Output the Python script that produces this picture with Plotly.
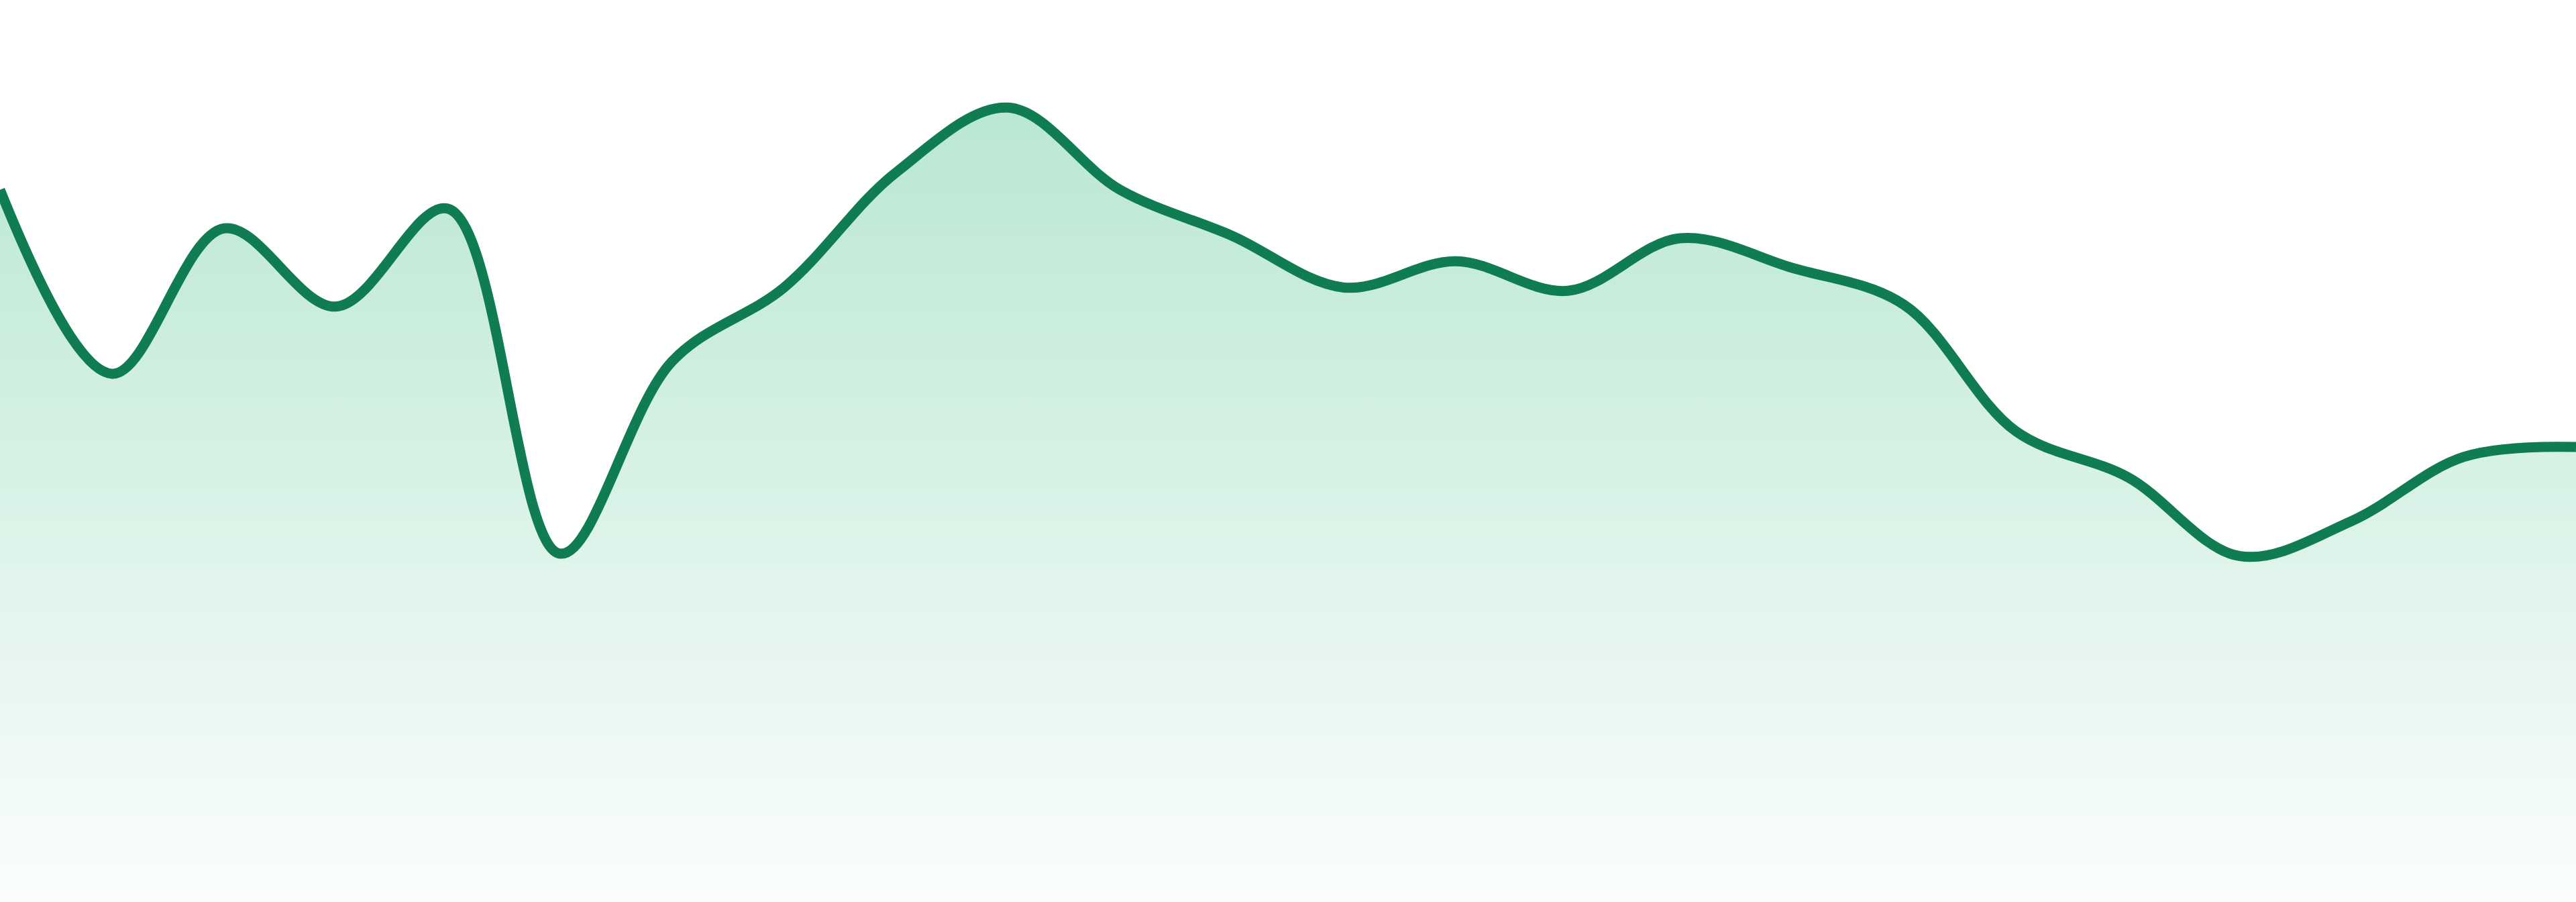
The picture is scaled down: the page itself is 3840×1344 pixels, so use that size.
#Grafico de area suavizada con relleno degradado
import plotly.graph_objects as go

#Datos (24 puntos, eje y sin escala visible)
puntos = list(range(24))
valores = [433.5, 321.5, 410, 362.4, 422, 212, 329, 374, 444, 483.5,
           433.5, 405.5, 374, 390, 372, 404, 386, 363.5, 286.5, 258.5,
           210.5, 232, 271, 277]

color_linea = "#107c52"

fig = go.Figure()
fig.add_trace(go.Scatter(
    x=puntos,
    y=valores,
    mode="lines",
    line=dict(color=color_linea, width=15, shape="spline", smoothing=1),
    fill="tozeroy",
    fillgradient=dict(
        type="vertical",
        colorscale=[[0, "rgba(61,189,132,0.02)"], [1, "rgba(61,189,132,0.36)"]],
    ),
    hoverinfo="skip",
))

fig.update_xaxes(visible=False, range=[0, 23], fixedrange=True)
fig.update_yaxes(visible=False, range=[0, 549], fixedrange=True)

fig.update_layout(
    width=3840,
    height=1344,
    margin=dict(t=0, b=0, l=0, r=0),
    paper_bgcolor="white",
    plot_bgcolor="white",
    showlegend=False,
)

fig.write_html("out.html", config={"displayModeBar": False},
               post_script="document.body.style.margin='0';document.body.style.overflow='hidden';")
